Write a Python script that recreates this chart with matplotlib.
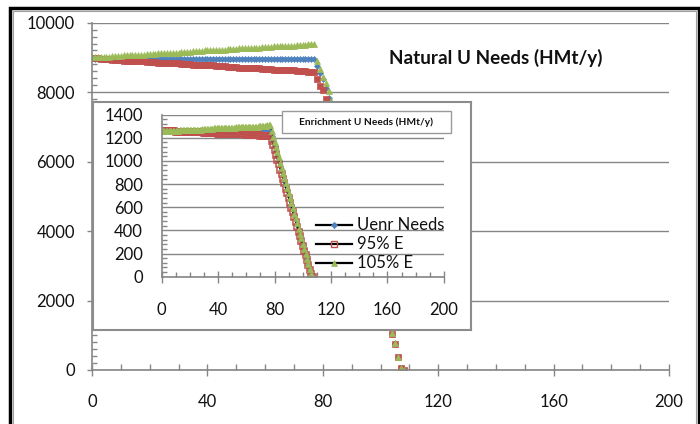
import matplotlib
matplotlib.use("Agg")
import matplotlib.pyplot as plt
from matplotlib.lines import Line2D
from matplotlib.patches import Rectangle
from matplotlib.ticker import MultipleLocator

plt.rcParams['font.family'] = ['Lato', 'DejaVu Sans']

# ---------------- data ----------------
# Natural U needs (HMt/y), one value per year, years 0..108
nat_base = [
    8970, 8960, 8960, 8960, 8960, 8960, 8960, 8960, 8960, 8960,
    8960, 8960, 8960, 8960, 8960, 8960, 8960, 8960, 8960, 8960,
    8960, 8960, 8960, 8960, 8960, 8960, 8960, 8960, 8960, 8960,
    8960, 8960, 8960, 8960, 8960, 8960, 8960, 8960, 8960, 8960,
    8960, 8960, 8960, 8960, 8960, 8960, 8960, 8960, 8960, 8960,
    8960, 8960, 8960, 8960, 8960, 8960, 8960, 8960, 8960, 8960,
    8960, 8960, 8960, 8960, 8960, 8960, 8960, 8960, 8960, 8960,
    8960, 8960, 8960, 8960, 8960, 8960, 8960, 8960, 8760, 8560,
    8380, 8130, 7820, 7510, 7200, 6890, 6580, 6270, 5960, 5660,
    5350, 5040, 4730, 4420, 4110, 3800, 3490, 3180, 2870, 2570,
    2260, 1950, 1640, 1340, 1030, 770, 370, 50, 0,
]
nat_95 = [
    8970, 8970, 8970, 8950, 8950, 8950, 8950, 8930, 8930, 8930,
    8930, 8910, 8910, 8910, 8910, 8890, 8890, 8890, 8890, 8870,
    8870, 8870, 8870, 8850, 8850, 8850, 8850, 8830, 8830, 8830,
    8830, 8810, 8810, 8810, 8810, 8790, 8790, 8790, 8790, 8770,
    8770, 8770, 8770, 8750, 8750, 8750, 8750, 8730, 8730, 8730,
    8730, 8710, 8710, 8710, 8710, 8690, 8690, 8690, 8690, 8670,
    8670, 8670, 8670, 8650, 8650, 8650, 8650, 8630, 8630, 8630,
    8630, 8610, 8610, 8610, 8610, 8590, 8590, 8590, 8390, 8190,
    8060, 7800, 7500, 7200, 6900, 6600, 6300, 6000, 5700, 5400,
    5100, 4800, 4500, 4200, 3900, 3600, 3300, 3000, 2700, 2400,
    2100, 1800, 1500, 1250, 1030, 760, 360, 50, 0,
]
nat_105 = [
    9000, 9000, 9000, 9020, 9020, 9020, 9020, 9040, 9040, 9040,
    9040, 9060, 9060, 9060, 9060, 9080, 9080, 9080, 9080, 9100,
    9100, 9100, 9100, 9120, 9120, 9120, 9120, 9140, 9140, 9140,
    9140, 9160, 9160, 9160, 9160, 9180, 9180, 9180, 9180, 9200,
    9200, 9200, 9200, 9220, 9220, 9220, 9220, 9240, 9240, 9240,
    9240, 9260, 9260, 9260, 9260, 9280, 9280, 9280, 9280, 9300,
    9300, 9300, 9300, 9320, 9320, 9320, 9320, 9340, 9340, 9340,
    9340, 9360, 9360, 9360, 9360, 9380, 9380, 9380, 8910, 8680,
    8450, 8250, 8040, 7740, 7430, 7120, 6810, 6500, 6190, 5880,
    5570, 5260, 4950, 4640, 4330, 4020, 3710, 3400, 3090, 2780,
    2470, 2160, 1850, 1420, 1060, 780, 370, 60, 0,
]

# Enrichment U needs (HMt/y), one value per year, years 0..107
enr_base = [
    1255, 1255, 1255, 1255, 1255, 1255, 1255, 1255, 1255, 1255,
    1255, 1255, 1255, 1255, 1255, 1255, 1255, 1255, 1255, 1255,
    1255, 1255, 1255, 1255, 1255, 1255, 1255, 1255, 1255, 1255,
    1255, 1255, 1255, 1255, 1255, 1255, 1255, 1255, 1255, 1255,
    1255, 1255, 1255, 1255, 1255, 1255, 1255, 1255, 1255, 1255,
    1255, 1255, 1255, 1255, 1255, 1255, 1255, 1255, 1255, 1255,
    1255, 1255, 1255, 1255, 1255, 1255, 1255, 1255, 1255, 1255,
    1255, 1255, 1255, 1255, 1255, 1255, 1255, 1255, 1215, 1170,
    1130, 1085, 1040, 1000, 955, 915, 870, 830, 785, 745,
    700, 660, 615, 575, 530, 490, 445, 405, 360, 320,
    275, 235, 190, 150, 105, 60, 20, 0,
]
enr_95 = [
    1255, 1255, 1255, 1255, 1255, 1255, 1255, 1255, 1255, 1255,
    1250, 1250, 1250, 1250, 1250, 1250, 1250, 1250, 1250, 1250,
    1245, 1245, 1245, 1245, 1245, 1245, 1245, 1245, 1245, 1245,
    1240, 1240, 1240, 1240, 1240, 1240, 1240, 1240, 1240, 1240,
    1235, 1235, 1235, 1235, 1235, 1235, 1235, 1235, 1235, 1235,
    1228, 1228, 1228, 1228, 1228, 1228, 1228, 1228, 1228, 1228,
    1220, 1220, 1220, 1220, 1220, 1220, 1220, 1220, 1220, 1220,
    1212, 1212, 1212, 1212, 1212, 1212, 1212, 1212, 1175, 1135,
    1095, 1050, 1010, 970, 925, 885, 845, 805, 760, 720,
    680, 640, 595, 555, 515, 475, 430, 390, 350, 310,
    265, 225, 185, 145, 100, 60, 20, 0,
]
enr_105 = [
    1255, 1255, 1255, 1255, 1255, 1260, 1260, 1260, 1260, 1260,
    1260, 1260, 1260, 1265, 1265, 1265, 1265, 1265, 1265, 1265,
    1265, 1270, 1270, 1270, 1270, 1270, 1270, 1270, 1270, 1275,
    1275, 1275, 1275, 1275, 1275, 1275, 1275, 1280, 1280, 1280,
    1280, 1280, 1280, 1280, 1280, 1285, 1285, 1285, 1285, 1285,
    1285, 1285, 1285, 1290, 1290, 1290, 1290, 1290, 1290, 1290,
    1290, 1295, 1295, 1295, 1295, 1295, 1295, 1295, 1295, 1300,
    1300, 1300, 1300, 1300, 1300, 1310, 1310, 1310, 1260, 1210,
    1165, 1120, 1075, 1030, 985, 940, 895, 855, 810, 765,
    720, 680, 635, 590, 545, 505, 460, 415, 370, 330,
    285, 240, 195, 155, 110, 65, 20, 0,
]

nat_years = list(range(len(nat_base)))
enr_years = list(range(len(enr_base)))

series_labels = ["Uenr Needs", "95% E", "105% E"]
outer_title = "Natural U Needs (HMt/y)"
inset_title = "Enrichment U Needs (HMt/y)"
outer_xticks = [0, 40, 80, 120, 160, 200]
outer_yticks = [0, 2000, 4000, 6000, 8000, 10000]
inset_xticks = [0, 40, 80, 120, 160, 200]
inset_yticks = [0, 200, 400, 600, 800, 1000, 1200, 1400]

# ---------------- styling ----------------
BLUE = '#4F81BD'
RED = '#C0504D'
GREEN = '#9BBB59'
GRID = '#868686'
TXT = '#111111'

W, H = 700, 424
fig = plt.figure(figsize=(7.0, 4.24), dpi=100)


def fx(px):
    return px / W


def fy(py):
    return 1 - py / H


# figure frame
fig.add_artist(Rectangle((fx(10), fy(440)), fx(699) - fx(10), fy(8) - fy(440),
                         transform=fig.transFigure, fill=False, ec='black', lw=2.5, zorder=0))
fig.add_artist(Rectangle((fx(13), fy(440)), fx(696) - fx(13), fy(11) - fy(440),
                         transform=fig.transFigure, fill=False, ec='#a0a0a0', lw=0.8, zorder=0))

# ---------------- outer chart ----------------
ax = fig.add_axes([fx(92), fy(370), fx(669) - fx(92), fy(22.7) - fy(370)], zorder=1)
ax.set_facecolor('none')
ax.set_xlim(0, 200)
ax.set_ylim(0, 10000)
ax.set_xticks(outer_xticks)
ax.set_yticks(outer_yticks)
ax.xaxis.set_minor_locator(MultipleLocator(10))
ax.yaxis.set_minor_locator(MultipleLocator(200))
for s in ['top', 'right']:
    ax.spines[s].set_visible(False)
for s in ['left', 'bottom']:
    ax.spines[s].set_color(GRID)
    ax.spines[s].set_linewidth(1.2)
ax.grid(axis='y', which='major', color=GRID, lw=1.0)
ax.set_axisbelow(True)
ax.tick_params(axis='x', which='major', direction='inout', length=9, width=1, color=GRID,
               pad=12.5, labelsize=12, labelcolor=TXT)
ax.tick_params(axis='x', which='minor', direction='in', length=4.3, width=1, color=GRID)
ax.tick_params(axis='y', which='major', direction='out', length=3.6, width=1, color=GRID,
               pad=8.6, labelsize=12, labelcolor=TXT)
ax.tick_params(axis='y', which='minor', direction='in', length=3.6, width=1, color=GRID)

ax.plot(nat_years, nat_base, ls='none', marker='D', ms=3.0, color=BLUE, mec=BLUE, mew=0.5)
ax.plot(nat_years, nat_95, ls='none', marker='s', ms=4.4, color=RED, mec=RED, mew=0.5)
ax.plot(nat_years, nat_105, ls='none', marker='^', ms=4.4, color=GREEN, mec=GREEN, mew=0.5)

fig.text(fx(495.5), fy(58), outer_title, ha='center', va='center', fontsize=13.6,
         fontweight='bold', color=TXT)

# ---------------- inset box ----------------
box = fig.add_axes([fx(93), fy(330), fx(471) - fx(93), fy(102) - fy(330)], zorder=2)
box.set_facecolor('white')
box.set_xticks([])
box.set_yticks([])
for s in box.spines.values():
    s.set_color('#8c8c8c')
    s.set_linewidth(1.5)

# ---------------- inset chart ----------------
ai = fig.add_axes([fx(161.5), fy(276.7), fx(444) - fx(161.5), fy(114.5) - fy(276.7)], zorder=3)
ai.set_facecolor('none')
ai.set_xlim(0, 200)
ai.set_ylim(0, 1400)
ai.set_xticks(inset_xticks)
ai.set_yticks(inset_yticks)
ai.xaxis.set_minor_locator(MultipleLocator(10))
ai.yaxis.set_minor_locator(MultipleLocator(40))
for s in ['top', 'right']:
    ai.spines[s].set_visible(False)
for s in ['left', 'bottom']:
    ai.spines[s].set_color(GRID)
    ai.spines[s].set_linewidth(1.2)
ai.grid(axis='y', which='major', color=GRID, lw=1.0)
ai.set_axisbelow(True)
ai.tick_params(axis='x', which='major', direction='inout', length=8, width=1, color=GRID,
               pad=13.9, labelsize=12, labelcolor=TXT)
ai.tick_params(axis='x', which='minor', direction='in', length=3.6, width=1, color=GRID)
ai.tick_params(axis='y', which='major', direction='in', length=0, width=1, color=GRID,
               pad=13.3, labelsize=12, labelcolor=TXT)
ai.tick_params(axis='y', which='minor', direction='in', length=3.6, width=1, color=GRID)

ai.plot(enr_years, enr_base, color='black', lw=0.7, marker='D', ms=3.0,
        mfc=BLUE, mec=BLUE, mew=0.5)
ai.plot(enr_years, enr_95, color='black', lw=0.7, marker='s', ms=3.8,
        mfc='none', mec=RED, mew=1.1)
ai.plot(enr_years, enr_105, color='black', lw=0.7, marker='^', ms=4.2,
        mfc=GREEN, mec=GREEN, mew=0.5)

# inset title box
fig.add_artist(Rectangle((fx(282), fy(133)), fx(451) - fx(282), fy(111) - fy(133),
                         transform=fig.transFigure, fc='white', ec='#9a9a9a', lw=1.0, zorder=4))
fig.text(fx(366), fy(122.5), inset_title, ha='center', va='center', fontsize=7.3,
         fontweight='bold', color=TXT, zorder=5)

# inset legend (manual)
leg_y = [225, 244, 263]
leg_style = [
    dict(marker='D', ms=3.2, mfc=BLUE, mec=BLUE, mew=0.5),
    dict(marker='s', ms=4.0, mfc='none', mec=RED, mew=1.0),
    dict(marker='^', ms=4.2, mfc=GREEN, mec=GREEN, mew=0.5),
]
for y, lab, st in zip(leg_y, series_labels, leg_style):
    fig.add_artist(Line2D([fx(316), fx(352)], [fy(y), fy(y)], transform=fig.transFigure,
                          color='black', lw=1.6, zorder=5))
    fig.add_artist(Line2D([fx(334)], [fy(y)], transform=fig.transFigure, ls='none',
                          zorder=6, **st))
    fig.text(fx(357), fy(y), lab, ha='left', va='center', fontsize=12, color=TXT, zorder=6)

fig.savefig('out.png', dpi=100)
